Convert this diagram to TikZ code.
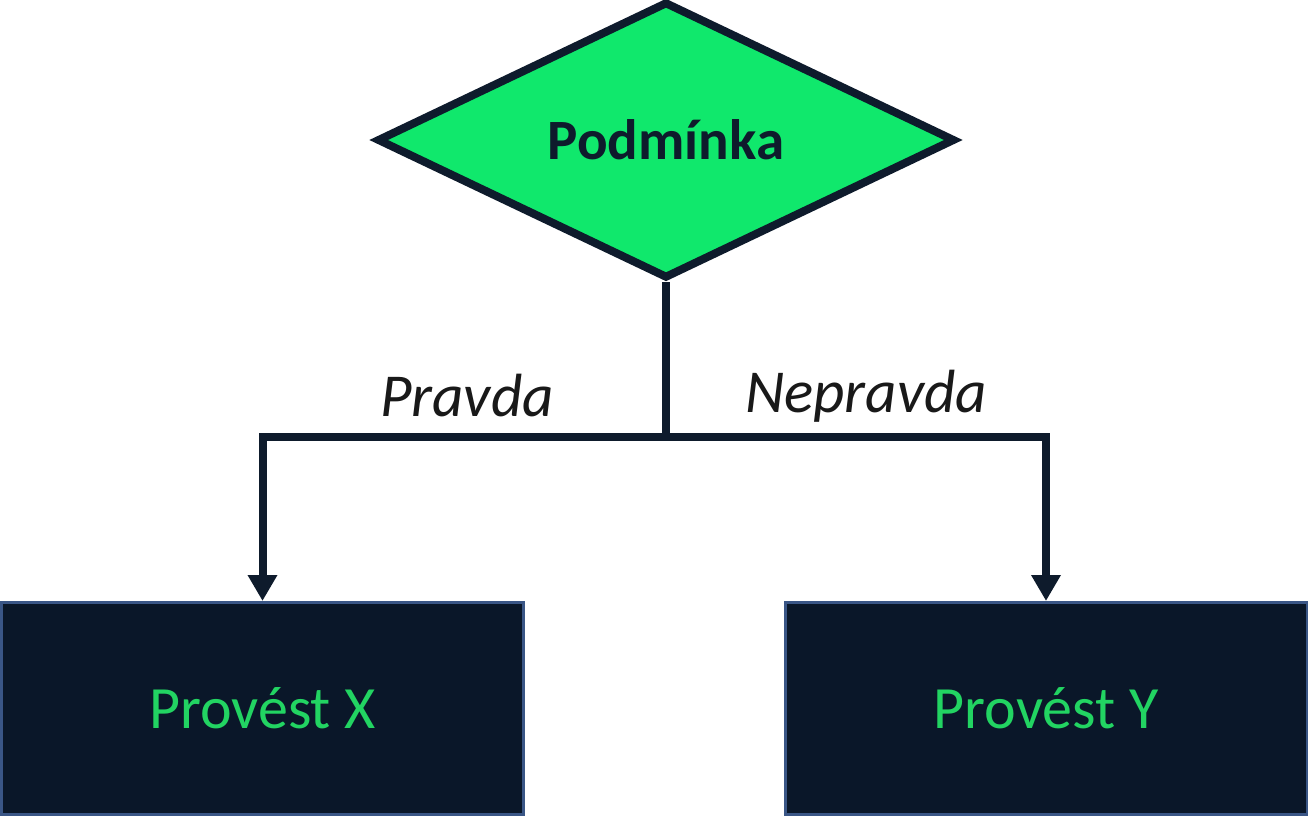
\documentclass[tikz,border=0pt]{standalone}
\usepackage{fontspec}
\setmainfont{Carlito}
\usetikzlibrary{shapes.geometric,arrows.meta}
\definecolor{navy}{HTML}{0A1729}
\definecolor{linec}{HTML}{0E1B2C}
\definecolor{bright}{HTML}{10E86C}
\definecolor{txtgreen}{HTML}{22D462}
\definecolor{boxedge}{HTML}{3A5686}
\tikzset{
  cond/.style={diamond, draw=linec, line width=8pt, fill=bright, minimum width=578pt, minimum height=264pt, inner sep=0pt, font=\fontsize{57}{62}\selectfont\bfseries, text=linec},
  actbox/.style={rectangle, draw=boxedge, line width=3pt, fill=navy, minimum width=522pt, minimum height=212pt, inner sep=0pt, font=\fontsize{60}{66}\selectfont, text=txtgreen},
  conn/.style={draw=linec, line width=8pt},
  arr/.style={conn, -{Triangle[width=28pt,length=26pt]}},
  lbl/.style={font=\fontsize{61}{66}\selectfont\itshape, text=black!90}
}
\begin{document}
\begin{tikzpicture}[x=1pt,y=-1pt]
\useasboundingbox (0,0) rectangle (1308,816);
\fill[white] (0,0) rectangle (1308,816);
\node[cond] (c) at (666,140) {Podmínka};
\node[actbox] (x) at (262.5,708.5) {Provést X};
\node[actbox] (y) at (1046,708.5) {Provést Y};
\coordinate (j) at (666,437);
\node[lbl] (p) at (467,396) {Pravda};
\node[lbl] (n) at (866,396) {Nepravda};
\draw[conn] (c.south) -- (j);
\draw[arr] (j) -| (x.north);
\draw[arr] (j) -| (y.north);
\end{tikzpicture}
\end{document}
